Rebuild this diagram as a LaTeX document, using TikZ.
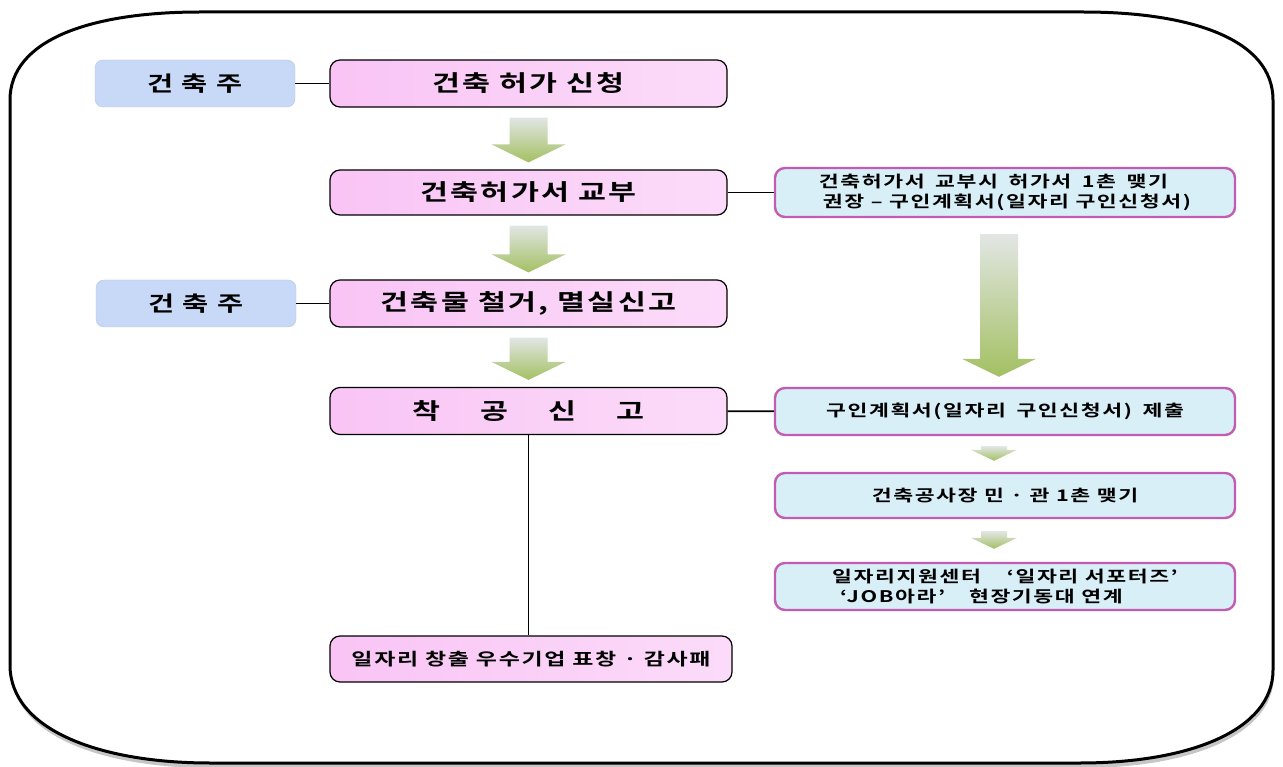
\documentclass[tikz,border=0pt]{standalone}
\usepackage{fontspec}
\setmainfont{Noto Sans CJK KR}
\newfontfamily\krbold{Noto Sans CJK KR Bold}[FakeStretch=1.35,LetterSpace=10]
\usetikzlibrary{calc,shadows}

\definecolor{ownerblue}{HTML}{C8D8F7}
\definecolor{stepink}{HTML}{F9C4F5}
\definecolor{sideblue}{HTML}{D8EFF7}
\definecolor{sideedge}{HTML}{C25CB3}
\definecolor{arrowtop}{HTML}{E2E6E4}
\definecolor{arrowbot}{HTML}{A3C062}

\newcommand{\greenarrow}[5]{%
  \shade[top color=arrowtop,bottom color=arrowbot]
    let \p1=(#1), \p2=(#2) in
    (\x1-#3,\y1) -- (\x1+#3,\y1) -- (\x1+#3,\y2+#5) -- (\x1+#4,\y2+#5)
    -- (\x1,\y2) -- (\x1-#4,\y2+#5) -- (\x1-#3,\y2+#5) -- cycle;}

\begin{document}
\begin{tikzpicture}[x=1pt,y=-1pt,
  owner/.style={rounded corners=8pt,fill=ownerblue,draw=ownerblue!80!gray,
    minimum width=200pt,minimum height=47pt,
    font=\krbold\fontsize{21}{24}\selectfont},
  stepbox/.style={rounded corners=10pt,draw=black,line width=1.2pt,
    left color=stepink,middle color=stepink!25,right color=stepink!60,
    minimum width=397pt,minimum height=47pt,
    font=\krbold\fontsize{22.5}{25}\selectfont},
  sidebox/.style={rounded corners=10pt,draw=sideedge,line width=2.4pt,
    fill=sideblue,minimum width=460pt,minimum height=47pt,align=left,
    font=\krbold\fontsize{16}{20}\selectfont},
  link/.style={line width=1.8pt}]
\useasboundingbox (0,0) rectangle (1283,767);
\draw[line width=3pt,fill=white,
  drop shadow={shadow xshift=1pt,shadow yshift=-5pt,opacity=.45,fill=gray}]
  (10,100) .. controls (10,40) and (90,12) .. (200,12) -- (1083,12)
  .. controls (1193,12) and (1273,40) .. (1273,100) -- (1273,670)
  .. controls (1273,730) and (1190,763) .. (1080,763) -- (210,763)
  .. controls (100,763) and (10,730) .. (10,665) -- cycle;

\node[owner] (kj1) at (195,83.5) {건 축 주};
\node[stepbox] (apply) at (528.5,83.5) {건축 허가 신청};
\node[stepbox,minimum height=45pt] (issue) at (528.5,192.5) {건축허가서 교부};
\node[owner] (kj2) at (196,303.5) {건 축 주};
\node[stepbox] (demol) at (528.5,303.5) {건축물 철거, 멸실신고};
\node[stepbox] (start) at (528.5,411) {착\hspace{40pt}공\hspace{40pt}신\hspace{40pt}고};
\node[stepbox,minimum width=402pt,minimum height=46pt,
  font=\krbold\fontsize{17}{20}\selectfont] (award) at (531,659)
  {일자리 창출 우수기업 표창 · 감사패};

\node[sidebox,minimum height=49pt] (r1) at (1005,192.5)
  {건축허가서\hspace{4pt} 교부시\hspace{4pt} 허가서\hspace{4pt} 1촌\hspace{4pt} 맺기\\
   \hspace{4pt}권장 – 구인계획서(일자리 구인신청서)};
\node[sidebox] (r2) at (1005,411.5) {구인계획서(일자리\hspace{4pt} 구인신청서)\hspace{4pt} 제출};
\node[sidebox,minimum height=45pt,align=center] (r3) at (1005,495.5) {건축공사장 민 · 관 1촌 맺기};
\node[sidebox] (r4) at (1005,586.5)
  {일자리지원센터\hspace{26pt}‘일자리 서포터즈’\\
   \hspace{8pt}‘JOB아라’\hspace{24pt}현장기동대 연계};

\draw[link] (kj1) -- (apply);
\draw[link] (kj2) -- (demol);
\draw[link] (issue) -- (r1);
\draw[link] (start) -- (r2);
\draw[link] (start.south) -- (start.south |- award.north);

\greenarrow{$(apply.south)+(0,10)$}{$(issue.north)+(0,-7)$}{19pt}{37pt}{18pt}
\greenarrow{$(issue.south)+(0,10)$}{$(demol.north)+(0,-7)$}{19pt}{37pt}{18pt}
\greenarrow{$(demol.south)+(0,10)$}{$(start.north)+(0,-7)$}{19pt}{37pt}{18pt}
\greenarrow{$(r1.south)+(-6,16)$}{$(r2.north)+(-6,-10)$}{19pt}{37pt}{18pt}
\greenarrow{$(r2.south)+(-11,10)$}{$(r3.north)+(-11,-11)$}{13pt}{23pt}{11pt}
\greenarrow{$(r3.south)+(-11,12)$}{$(r4.north)+(-11,-13)$}{13pt}{23pt}{11pt}
\end{tikzpicture}
\end{document}
